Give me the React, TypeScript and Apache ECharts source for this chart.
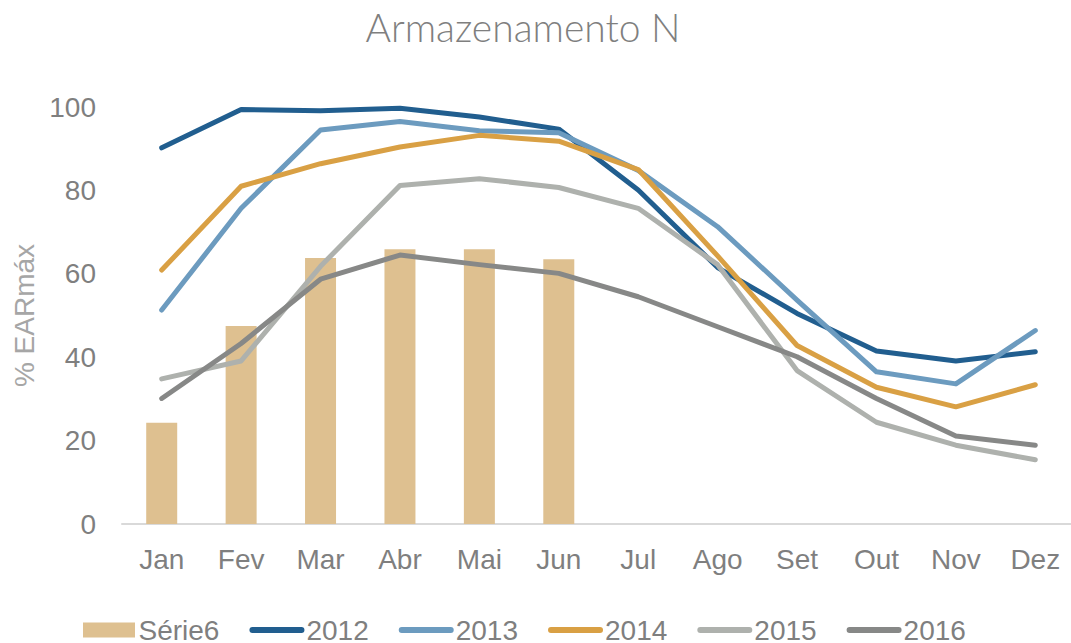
import React, { useEffect, useRef } from "react";
import * as echarts from "echarts";

const months = ["Jan", "Fev", "Mar", "Abr", "Mai", "Jun", "Jul", "Ago", "Set", "Out", "Nov", "Dez"];
const serie6 = [24.3, 47.5, 63.8, 65.9, 65.9, 63.5, null, null, null, null, null, null];
const s2012 = [90.2, 99.4, 99.1, 99.7, 97.6, 94.7, 80.1, 61.5, 50.5, 41.5, 39.1, 41.3];
const s2013 = [51.3, 75.7, 94.5, 96.5, 94.3, 93.8, 84.8, 71.3, 53.7, 36.5, 33.6, 46.4];
const s2014 = [60.9, 81.0, 86.4, 90.4, 93.2, 91.8, 85.0, 64.3, 42.8, 32.8, 28.1, 33.4];
const s2015 = [34.8, 39.1, 61.8, 81.2, 82.8, 80.7, 75.7, 62.2, 36.8, 24.4, 18.9, 15.4];
const s2016 = [30.1, 43.3, 58.7, 64.5, 62.2, 60.1, 54.5, 47.3, 40.1, 30.1, 21.1, 18.9];
const yTicks = [0, 20, 40, 60, 80, 100];

const lineNames = ["2012", "2013", "2014", "2015", "2016"];
const lineData = [s2012, s2013, s2014, s2015, s2016];
const lineColors = ["#215e8f", "#6c9bbf", "#d9a044", "#aeb1ad", "#878887"];

export default function App() {
  const ref = useRef<HTMLDivElement>(null);
  useEffect(() => {
    if (!ref.current) return;
    const chart = echarts.init(ref.current, null, { renderer: "svg" });
    const font = "'Liberation Sans', Arial, sans-serif";
    const lineIcon = "path://M3,0 L52,0 A3,3 0 0 1 52,6 L3,6 A3,3 0 0 1 3,0 Z";
    const rectIcon = "path://M0,0 L52,0 L52,15 L0,15 Z";
    chart.setOption({
      animation: false,
      backgroundColor: "#ffffff",
      title: {
        text: "Armazenamento N",
        left: 518,
        textAlign: "center",
        top: 2,
        textStyle: {
          fontFamily: "Lato, 'Open Sans', sans-serif",
          fontWeight: 300,
          fontSize: 39,
          color: "#7f7f7f",
        },
      },
      legend: {
        left: 78,
        top: 611,
        itemWidth: 55,
        itemHeight: 15,
        itemGap: 30,
        textStyle: { fontFamily: font, fontSize: 28, color: "#7f7f7f", padding: [0, 0, 0, -3] },
        data: [
          { name: "Série6", icon: rectIcon },
          ...lineNames.map((n) => ({ name: n, icon: lineIcon })),
        ],
      },
      grid: { left: 122, right: 0, top: 107, bottom: 119, containLabel: false, outerBoundsMode: "none" },
      xAxis: {
        type: "category",
        data: months,
        axisLine: { lineStyle: { color: "#d9d9d9", width: 2 } },
        axisTick: { show: false },
        axisLabel: { fontFamily: font, fontSize: 28, color: "#7f7f7f", margin: 21 },
      },
      yAxis: {
        type: "value",
        min: yTicks[0],
        max: yTicks[yTicks.length - 1],
        interval: 20,
        name: "% EARmáx",
        nameLocation: "middle",
        nameGap: 82,
        nameTextStyle: { fontFamily: font, fontSize: 28, color: "#a6a6a6" },
        axisLine: { show: false },
        axisTick: { show: false },
        splitLine: { show: false },
        axisLabel: { fontFamily: font, fontSize: 28, color: "#7f7f7f", margin: 26 },
      },
      series: [
        {
          name: "Série6",
          type: "bar",
          data: serie6,
          barWidth: 31,
          itemStyle: { color: "#dec090" },
        },
        ...lineNames.map((n, i) => ({
          name: n,
          type: "line",
          data: lineData[i],
          symbol: "none",
          lineStyle: { color: lineColors[i], width: 5, cap: "round", join: "round" },
          itemStyle: { color: lineColors[i] },
        })),
      ],
    });
    return () => chart.dispose();
  }, []);
  return (
    <div
      ref={ref}
      style={{ position: "fixed", left: 0, top: 0, width: 1075, height: 643 }}
    />
  );
}
